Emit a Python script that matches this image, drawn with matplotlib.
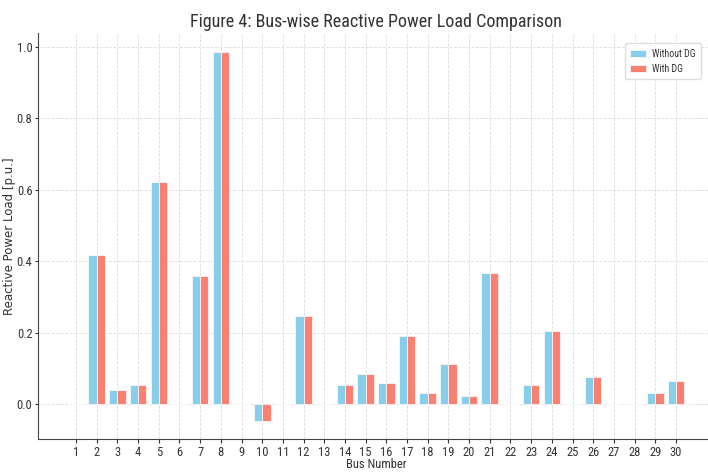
import matplotlib
matplotlib.use("Agg")
import matplotlib.pyplot as plt
import numpy as np

buses = list(range(1, 31))
q_without = [0.0, 0.417, 0.039, 0.053, 0.623, 0.0, 0.358, 0.986, 0.0, -0.048,
             0.0, 0.246, 0.0, 0.053, 0.083, 0.059, 0.191, 0.030, 0.112, 0.023,
             0.368, 0.0, 0.053, 0.205, 0.0, 0.076, 0.0, 0.0, 0.030, 0.064]
q_with = [0.0, 0.417, 0.039, 0.053, 0.623, 0.0, 0.358, 0.986, 0.0, -0.048,
          0.0, 0.246, 0.0, 0.053, 0.083, 0.059, 0.191, 0.030, 0.112, 0.023,
          0.368, 0.0, 0.053, 0.205, 0.0, 0.076, 0.0, 0.0, 0.030, 0.064]
yticks = [0.0, 0.2, 0.4, 0.6, 0.8, 1.0]

narrow = ["Roboto Condensed", "Open Sans Condensed", "DejaVu Sans"]

fig = plt.figure(figsize=(7.08, 4.72), dpi=100)
ax = fig.add_axes([38/708, 1-439/472, (714-38)/708, (439-33)/472])

x = np.array(buses)
w = 0.4
ax.bar(x - w/2, q_without, w, color="skyblue", edgecolor="white", linewidth=0.5, label="Without DG", zorder=3)
ax.bar(x + w/2, q_with, w, color="salmon", edgecolor="white", linewidth=0.5, label="With DG", zorder=3)

ax.set_xlim(-0.84, 31.84)
ax.set_ylim(-0.098, 1.039)
ax.set_xticks(buses)
ax.set_xticklabels([str(b) for b in buses], family=narrow, fontsize=9, color="#333333")
ax.set_yticks(yticks)
ax.set_yticklabels([f"{v:.1f}" for v in yticks], family=narrow, fontsize=9, color="#333333")
ax.tick_params(axis="x", length=3, width=0.8, pad=2, color="#333333")
ax.tick_params(axis="y", length=2.5, width=0.8, pad=1.5, color="#333333")
ax.grid(True, linestyle="--", linewidth=0.6, color="#dcdcdc", zorder=0)
ax.spines["top"].set_visible(False)
ax.spines["right"].set_visible(False)
ax.spines["left"].set_color("#444444")
ax.spines["bottom"].set_color("#444444")

ax.set_title("Figure 4: Bus-wise Reactive Power Load Comparison", family=narrow, fontsize=13, pad=4, color="#333333")
ax.set_xlabel("Bus Number", family=narrow, fontsize=9, color="#333333", va="center")
ax.xaxis.set_label_coords(0.5, (439-465)/406)
ax.set_ylabel("Reactive Power Load [p.u.]", fontsize=8.5, color="#333333", va="center")
ax.yaxis.set_label_coords((9-38)/676, 0.5)

leg = fig.legend(loc="upper right", bbox_to_anchor=(706/708, 1-38/472), prop={"family": narrow, "size": 7},
                 framealpha=1, edgecolor="#dddddd", fancybox=True, handlelength=1.6, handletextpad=0.6,
                 borderpad=0.6, labelspacing=0.5)
for t in leg.get_texts():
    t.set_color("#333333")

fig.savefig("out.png", dpi=100)
